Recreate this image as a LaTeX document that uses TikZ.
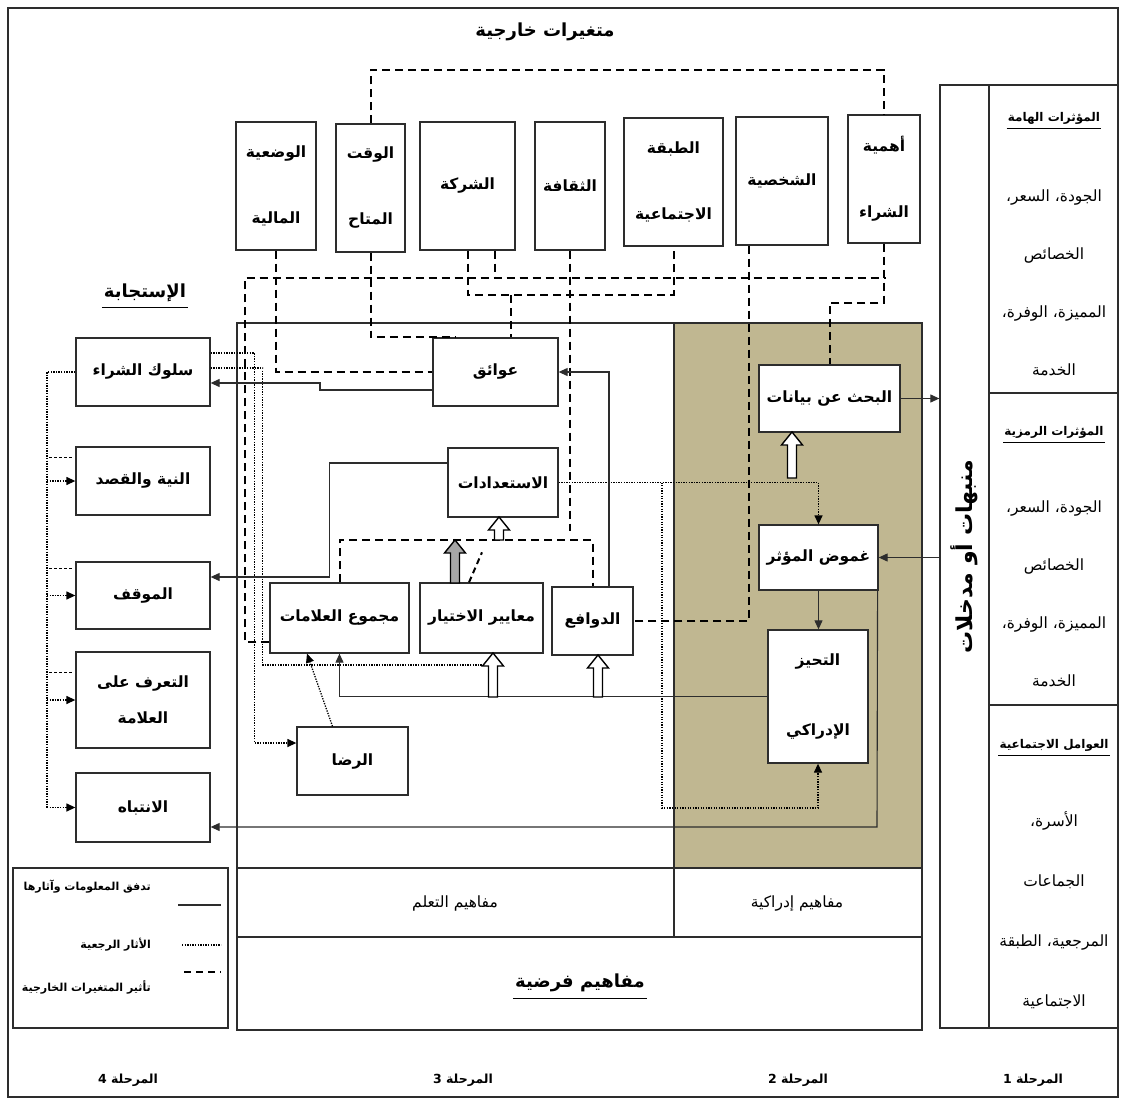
\documentclass[tikz,border=0pt]{standalone}
\usepackage{fontspec}
\usetikzlibrary{arrows.meta,calc}
\TeXXeTstate=1
\newfontfamily\arabicfont[Script=Arabic]{DejaVu Sans}
\newcommand{\artxt}[1]{{\arabicfont\beginR #1\endR}}
\definecolor{regionfill}{RGB}{192,183,145}
\definecolor{ink}{RGB}{45,45,45}
\newcommand{\holup}[4][white]{%
  \draw[hol,fill=#1] (#2-4.5,#3) -- (#2-4.5,#4+13) -- (#2-10.5,#4+13) -- (#2,#4) -- (#2+10.5,#4+13) -- (#2+4.5,#4+13) -- (#2+4.5,#3) -- cycle;}
\begin{document}
\begin{tikzpicture}[x=1pt,y=-1pt,
  box/.style={draw=ink, line width=1.3pt, fill=white, inner sep=0pt, align=center, font=\fontsize{15.5}{18}\selectfont\bfseries},
  tbox/.style={box, font=\fontsize{15.5}{66}\selectfont\bfseries},
  sol/.style={draw=ink, line width=1.1pt},
  dsh/.style={draw=black, line width=2pt, dash pattern=on 8pt off 5pt},
  dot/.style={draw=black, line width=1.3pt, dash pattern=on 1.3pt off 1.3pt},
  tip/.style={-{Triangle[length=9pt,width=8pt]}},
  hol/.style={draw=black, line width=1.4pt},
  frame/.style={draw=ink, line width=1.3pt},
  lbl/.style={inner sep=1pt, font=\fontsize{13}{15}\selectfont},
  blbl/.style={inner sep=1pt, font=\fontsize{12}{14}\selectfont\bfseries},
]
\useasboundingbox (0,0) rectangle (1125,1102);
\fill[white] (0,0) rectangle (1125,1102);
% outer border
\draw[line width=1.5pt, draw=ink] (8,8) rectangle (1118,1097);
% shaded perception region
\fill[regionfill] (674,323) rectangle (922,868);
% big frame
\draw[frame] (237,323) rectangle (922,1030);
\draw[frame] (237,868) -- (922,868);
\draw[frame] (237,937) -- (922,937);
\draw[frame] (674,323) -- (674,937);
% right panel
\node[draw=ink, line width=1.3pt, minimum width=49pt, minimum height=943pt, inner sep=0pt] (stim) at (964.5,556.5) {};
\draw[frame] (989,85) rectangle (1118,1028);
\draw[frame] (989,393) -- (1118,393);
\draw[frame] (989,705) -- (1118,705);
% legend box
\node[draw=ink, line width=1.3pt, minimum width=215pt, minimum height=160pt, inner sep=0pt] (legend) at (120.5,948) {};

% top boxes
\node[tbox, minimum width=80pt, minimum height=128pt] (mali) at (276,186) {\artxt{الوضعية}\\\artxt{المالية}};
\node[tbox, minimum width=69pt, minimum height=128pt] (waqt) at (370.5,188) {\artxt{الوقت}\\\artxt{المتاح}};
\node[tbox, minimum width=95pt, minimum height=128pt] (sharika) at (467.5,186) {\artxt{الشركة}};
\node[tbox, minimum width=70pt, minimum height=128pt] (thaqafa) at (570,186) {\artxt{الثقافة}};
\node[tbox, minimum width=99pt, minimum height=128pt] (tabaqa) at (673.5,182) {\artxt{الطبقة}\\\artxt{الاجتماعية}};
\node[tbox, minimum width=92pt, minimum height=128pt] (shakhsiya) at (782,181) {\artxt{الشخصية}};
\node[tbox, minimum width=72pt, minimum height=128pt] (ahamiya) at (884,179) {\artxt{أهمية}\\\artxt{الشراء}};

% response boxes
\node[box, minimum width=134pt, minimum height=68pt] (suluk) at (143,372) {\artxt{سلوك الشراء}};
\node[box, minimum width=134pt, minimum height=68pt] (niya) at (143,481) {\artxt{النية والقصد}};
\node[box, minimum width=134pt, minimum height=67pt] (mawqif) at (143,595.5) {\artxt{الموقف}};
\node[box, minimum width=134pt, minimum height=96pt, font=\fontsize{15.5}{36}\selectfont\bfseries] (taarruf) at (143,700) {\artxt{التعرف على}\\\artxt{العلامة}};
\node[box, minimum width=134pt, minimum height=69pt] (intibah) at (143,807.5) {\artxt{الانتباه}};

% middle boxes
\node[box, minimum width=125pt, minimum height=68pt] (awaiq) at (495.5,372) {\artxt{عوائق}};
\node[box, minimum width=110pt, minimum height=69pt] (istiadad) at (503,482.5) {\artxt{الاستعدادات}};
\node[box, minimum width=139pt, minimum height=70pt] (majmu) at (339.5,618) {\artxt{مجموع العلامات}};
\node[box, minimum width=123pt, minimum height=70pt] (maayir) at (481.5,618) {\artxt{معايير الاختيار}};
\node[box, minimum width=81pt, minimum height=68pt] (dawafi) at (592.5,621) {\artxt{الدوافع}};
\node[box, minimum width=111pt, minimum height=68pt] (rida) at (352.5,761) {\artxt{الرضا}};
\node[box, minimum width=141pt, minimum height=67pt] (bahth) at (829.5,398.5) {\artxt{البحث عن بيانات}};
\node[box, minimum width=119pt, minimum height=65pt] (ghumud) at (818.5,557.5) {\artxt{غموض المؤثر}};
\node[box, minimum width=100pt, minimum height=133pt, font=\fontsize{15.5}{70}\selectfont\bfseries] (tahayyuz) at (818,696.5) {\artxt{التحيز}\\\artxt{الإدراكي}};

% dashed connectors (external variables)
\coordinate (c70) at (884,70);
\draw[dsh] (waqt.north) |- (c70) -- (ahamiya.north);
\coordinate (h278L) at (245,278);
\coordinate (h278R) at (886,278);
\draw[dsh] ([yshift=-24pt]majmu.west) -- (245,642) -- (h278L) -- (h278R);
\draw[dsh] (mali.south) |- (awaiq.west);
\draw[dsh] (waqt.south) |- ([xshift=-40pt]awaiq.north);
\coordinate (t295) at (673.5,295);
\draw[dsh] (sharika.south) |- (t295) -- (tabaqa.south);
\draw[dsh] ([xshift=27.5pt]sharika.south) -- ++(0,28);
\draw[dsh] (thaqafa.south) -- ++(0,280);
\coordinate (c540) at (450,540);
\draw[dsh] (majmu.north) |- (c540) -| (dawafi.north);
\coordinate (t511) at (511,295);
\draw[dsh] (t511) -- (t511 |- awaiq.north);
\draw[dsh] ([xshift=-33pt]shakhsiya.south) |- (dawafi.east);
\coordinate (c303) at (829.5,303);
\draw[dsh] (ahamiya.south) |- (c303) -- (bahth.north);
\draw[dsh, dash pattern=on 6pt off 4pt] ([xshift=-12.5pt]maayir.north) -- ++(13,-30);

% dotted feedback connectors
\draw[dot, tip] ([yshift=19pt]suluk.east) -- ++(44,0) |- ([yshift=18pt]rida.west);
\coordinate (d665) at (483,665);
\draw[dot] ([yshift=4pt]suluk.east) -- ++(52,0) |- (d665);
\draw[dot, tip] ([xshift=-20pt]rida.north) -- ([xshift=-32.5pt]majmu.south);
\draw[dot, tip] (istiadad.east) -| (ghumud.north);
\coordinate (b1) at (662,482.5);
\coordinate (b2) at (818,808);
\draw[dot, tip] (b1) |- (b2) -- (tahayyuz.south);
\coordinate (fb) at (47,0);
\draw[dot] (suluk.west) -- (fb |- suluk.west) -- (fb |- intibah.west);
\foreach \n in {niya,mawqif,taarruf,intibah}{
  \draw[dot, tip] (fb |- \n.west) -- (\n.west);
}
\draw[line width=1pt, dash pattern=on 3pt off 2pt] ([xshift=-26pt,yshift=24pt]niya.west) -- ++(24,0);
\draw[line width=1pt, dash pattern=on 3pt off 2pt] ([xshift=-26pt,yshift=27pt]mawqif.west) -- ++(24,0);
\draw[line width=1pt, dash pattern=on 3pt off 2pt] ([xshift=-26pt,yshift=28pt]taarruf.west) -- ++(24,0);

% solid information flow
\draw[sol, tip] ([yshift=-18pt]awaiq.west) -- (320,390) -- (320,383) -- ([yshift=-11pt]suluk.east);
\draw[sol, tip] ([xshift=16.5pt]dawafi.north) |- (awaiq.east);
\draw[sol, tip] ([yshift=19.5pt]istiadad.west) -- ++(-118,0) |- ([yshift=18.5pt]mawqif.east);
\draw[sol, tip] (bahth.east) -- (bahth.east -| stim.west);
\draw[sol, tip] (ghumud.east -| stim.west) -- (ghumud.east);
\draw[sol, tip] (ghumud.south) -- (ghumud.south |- tahayyuz.north);
\coordinate (s827) at (877,827);
\draw[sol, tip] ([xshift=-1pt,yshift=-10pt]ghumud.east) -- (s827) -- ([yshift=-19.5pt]intibah.east);
\draw[sol, tip] (tahayyuz.west) -| (majmu.south);

% hollow arrows
\holup{792}{478}{432}
\holup{499}{540}{517}
\holup[gray!70]{455}{583}{540}
\holup{493}{697}{653}
\holup{598}{697}{655}

% titles
\node[inner sep=1pt, font=\fontsize{18}{20}\selectfont\bfseries] (title) at (545,32) {\artxt{متغيرات خارجية}};
\node[inner sep=2pt, font=\fontsize{18}{20}\selectfont\bfseries] (resp) at (145,293) {\artxt{الإستجابة}};
\draw[line width=1.2pt] ([yshift=-3pt]resp.south west) -- ([yshift=-3pt]resp.south east);
\node[lbl, font=\fontsize{15.5}{18}\selectfont] (learn) at (455,903) {\artxt{مفاهيم التعلم}};
\node[lbl, font=\fontsize{15.5}{18}\selectfont] (percep) at (797,903) {\artxt{مفاهيم إدراكية}};
\node[inner sep=2pt, font=\fontsize{18}{20}\selectfont\bfseries] (hypo) at (580,983) {\artxt{مفاهيم فرضية}};
\draw[line width=1.2pt] ([yshift=-4pt]hypo.south west) -- ([yshift=-4pt]hypo.south east);
\node[rotate=90, inner sep=1pt, font=\fontsize{22}{24}\selectfont\bfseries] (stimtxt) at (stim) {\artxt{منبهات أو مدخلات}};

% right panel texts
\node[blbl] (h1) at (1054,118) {\artxt{المؤثرات الهامة}};
\draw[line width=1pt] ([yshift=-3pt]h1.south west) -- ([yshift=-3pt]h1.south east);
\node[lbl, align=center, font=\fontsize{15.5}{58}\selectfont] (b1t) at (1054,283) {\artxt{الجودة، السعر،}\\\artxt{الخصائص}\\\artxt{المميزة، الوفرة،}\\\artxt{الخدمة}};
\node[blbl] (h2) at (1054,432) {\artxt{المؤثرات الرمزية}};
\draw[line width=1pt] ([yshift=-3pt]h2.south west) -- ([yshift=-3pt]h2.south east);
\node[lbl, align=center, font=\fontsize{15.5}{58}\selectfont] (b2t) at (1054,594) {\artxt{الجودة، السعر،}\\\artxt{الخصائص}\\\artxt{المميزة، الوفرة،}\\\artxt{الخدمة}};
\node[blbl] (h3) at (1054,745) {\artxt{العوامل الاجتماعية}};
\draw[line width=1pt] ([yshift=-3pt]h3.south west) -- ([yshift=-3pt]h3.south east);
\node[lbl, align=center, font=\fontsize{15.5}{60}\selectfont] (b3t) at (1054,910) {\artxt{الأسرة،}\\\artxt{الجماعات}\\\artxt{المرجعية، الطبقة}\\\artxt{الاجتماعية}};

% legend
\node[blbl, anchor=east, font=\fontsize{11}{13}\selectfont\bfseries] (lg1) at (152,887) {\artxt{تدفق المعلومات وآثارها}};
\draw[sol] (lg1.east -| 178,0) ++(0,18) -- ++(43,0);
\node[blbl, anchor=east, font=\fontsize{11}{13}\selectfont\bfseries] (lg2) at (152,945) {\artxt{الأثار الرجعية}};
\draw[dot] (lg2.east -| 182,0) -- ++(39,0);
\node[blbl, anchor=east, font=\fontsize{11}{13}\selectfont\bfseries] (lg3) at (152,987) {\artxt{تأثير المتغيرات الخارجية}};
\draw[dsh, dash pattern=on 7pt off 5pt] (lg3.east -| 184,0) ++(0,-15) -- ++(37,0);

% phases
\node[blbl, font=\fontsize{12.5}{14}\selectfont\bfseries] (p4) at (128,1080) {\artxt{المرحلة 4}};
\node[blbl, font=\fontsize{12.5}{14}\selectfont\bfseries] (p3) at (463,1080) {\artxt{المرحلة 3}};
\node[blbl, font=\fontsize{12.5}{14}\selectfont\bfseries] (p2) at (798,1080) {\artxt{المرحلة 2}};
\node[blbl, font=\fontsize{12.5}{14}\selectfont\bfseries] (p1) at (1033,1080) {\artxt{المرحلة 1}};
\end{tikzpicture}
\end{document}
